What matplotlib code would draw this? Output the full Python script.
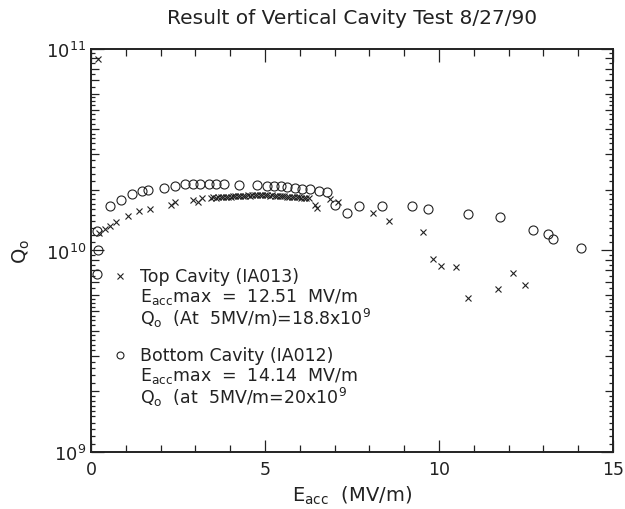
import numpy as np
from matplotlib import pyplot as plt
from matplotlib.ticker import FixedLocator, NullFormatter

# Top cavity (IA013): Eacc in MV/m, Qo in units of 1e10
top_e = [0.19, 0.24, 0.40, 0.54, 0.73, 1.05, 1.38, 1.69, 2.30, 2.40, 2.92, 3.07, 3.19,
         3.45, 3.52, 3.59, 3.66, 3.73, 3.80, 3.87, 3.94, 4.01, 4.08, 4.15, 4.22, 4.29,
         4.36, 4.43, 4.50, 4.57, 4.64, 4.71, 4.78, 4.85, 4.92, 5.00, 5.07, 5.14, 5.21,
         5.28, 5.35, 5.42, 5.49, 5.56, 5.63, 5.70, 5.77, 5.84, 5.91, 5.98, 6.05, 6.12,
         6.19, 6.26, 6.45, 6.50, 6.88, 7.11, 8.11, 8.56, 9.55, 9.82, 10.05, 10.50,
         10.83, 11.69, 12.14, 12.46]
top_q = [8.9, 1.22, 1.28, 1.32, 1.39, 1.48, 1.57, 1.61, 1.69, 1.74, 1.79, 1.74, 1.82,
         1.83, 1.84, 1.83, 1.84, 1.84, 1.85, 1.84, 1.85, 1.85, 1.86, 1.86, 1.87, 1.86,
         1.87, 1.87, 1.88, 1.87, 1.88, 1.88, 1.88, 1.89, 1.88, 1.88, 1.88, 1.87, 1.88,
         1.87, 1.86, 1.87, 1.86, 1.86, 1.85, 1.85, 1.84, 1.85, 1.84, 1.84, 1.83, 1.83,
         1.82, 1.82, 1.69, 1.62, 1.81, 1.74, 1.53, 1.40, 1.24, 0.91, 0.836, 0.826,
         0.582, 0.646, 0.775, 0.673]

# Bottom cavity (IA012)
bot_e = [0.16, 0.19, 0.16, 0.56, 0.85, 1.19, 1.48, 1.64, 2.09, 2.40, 2.69, 2.92, 3.13,
         3.40, 3.59, 3.81, 4.24, 4.78, 5.07, 5.26, 5.45, 5.64, 5.86, 6.07, 6.30, 6.54,
         6.78, 7.02, 7.35, 7.69, 8.37, 9.22, 9.69, 10.83, 11.76, 12.70, 13.13, 13.29,
         14.08]
bot_q = [1.25, 1.0, 0.76, 1.66, 1.79, 1.90, 1.97, 1.99, 2.05, 2.09, 2.13, 2.14, 2.14,
         2.14, 2.13, 2.13, 2.12, 2.11, 2.10, 2.09, 2.08, 2.07, 2.05, 2.03, 2.01, 1.98,
         1.95, 1.68, 1.54, 1.66, 1.66, 1.66, 1.61, 1.51, 1.46, 1.27, 1.21, 1.14, 1.03]

top_q = np.array(top_q) * 1e10
bot_q = np.array(bot_q) * 1e10

fig = plt.figure(figsize=(6.25, 5.1), dpi=100)
ax = fig.add_axes([0.1456, 0.1118, 0.835, 0.7902])

ink = "#222222"
ax.plot(top_e, top_q, "x", color=ink, markersize=4.8, markeredgewidth=0.8)
ax.plot(bot_e, bot_q, "o", color=ink, markersize=6.5, markerfacecolor="none",
        markeredgewidth=0.8)

ax.set_yscale("log")
ax.set_xlim(0, 15)
ax.set_ylim(1e9, 1e11)

# ticks
ax.set_xticks([0, 5, 10, 15])
ax.set_xticks(np.arange(0, 16, 1), minor=True)
ax.set_yticks([1e9, 1e10, 1e11])
ax.set_yticklabels([r"10$^9$", r"10$^{10}$", r"10$^{11}$"])
fine = []
for dec in [1e9, 1e10]:
    for s in [1.1, 1.2, 1.3, 1.4, 1.5, 1.6, 1.7, 1.8, 1.9, 2.2, 2.4, 2.6, 2.8,
              3.2, 3.4, 3.6, 3.8, 4.25, 4.5, 4.75, 5.25, 5.5, 5.75, 6.5, 7.5,
              8.5, 9.5]:
        fine.append(s * dec)
ax.yaxis.set_minor_locator(FixedLocator(fine))
ax.yaxis.set_minor_formatter(NullFormatter())
ax.tick_params(which="both", direction="in", top=True, right=True, colors=ink,
               labelsize=13, width=0.9)
ax.tick_params(which="major", length=9)
ax.tick_params(which="minor", length=3)
ax.tick_params(axis="x", which="minor", length=5)
ax.tick_params(axis="x", pad=6, labelsize=12.5)

# medium ticks at 2..9 on both sides
mid = [m * dec for dec in [1e9, 1e10] for m in range(2, 10)]
for side in ["left", "right"]:
    sec = ax.secondary_yaxis(side)
    sec.set_yscale("log")
    sec.yaxis.set_major_locator(FixedLocator(mid))
    sec.yaxis.set_minor_locator(FixedLocator([]))
    sec.yaxis.set_major_formatter(NullFormatter())
    sec.tick_params(direction="in", length=5.5, width=0.9, colors=ink)
    sec.spines[side].set_visible(False)

for sp in ax.spines.values():
    sp.set_linewidth(1.4)
    sp.set_color(ink)

ax.set_xlabel(r"E$_{\rm acc}$  (MV/m)", fontsize=14, color=ink, labelpad=4)
ax.set_ylabel(r"Q$_{\rm o}$", fontsize=14, color=ink, labelpad=10)
ax.set_title("Result of Vertical Cavity Test 8/27/90", fontsize=14.5, color=ink, pad=19)

# in-plot key
kx, tx = 0.055, 0.093
ax.plot([kx], [0.437], "x", color=ink, markersize=5, markeredgewidth=0.8,
        transform=ax.transAxes)
ax.plot([kx], [0.241], "o", color=ink, markersize=5, markerfacecolor="none",
        markeredgewidth=0.8, transform=ax.transAxes)
lines = [
    (0.437, "Top Cavity (IA013)"),
    (0.387, r"E$_{\rm acc}$max  =  12.51  MV/m"),
    (0.335, r"Q$_{\rm o}$  (At  5MV/m)=18.8x10$^9$"),
    (0.241, "Bottom Cavity (IA012)"),
    (0.191, r"E$_{\rm acc}$max  =  14.14  MV/m"),
    (0.139, r"Q$_{\rm o}$  (at  5MV/m=20x10$^9$"),
]
for y, s in lines:
    ax.text(tx, y, s, transform=ax.transAxes, fontsize=12.5, color=ink,
            va="center", ha="left")

fig.savefig("out.png", dpi=100)
